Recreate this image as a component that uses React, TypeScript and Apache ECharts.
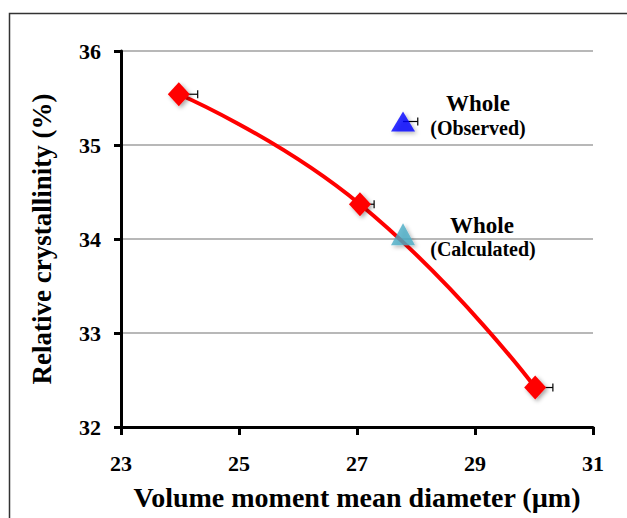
import React, { useEffect, useRef } from "react";
import * as echarts from "echarts";

const fitX = [23.98, 27.05, 30.02];
const fitY = [35.54, 34.37, 32.42];
const fitErr = [0.32, 0.24, 0.3];
const observed = [27.78, 35.25];
const observedErr = 0.25;
const calculated = [27.78, 34.05];
const xTicks = [23, 25, 27, 29, 31];
const yTicks = [32, 33, 34, 35, 36];

const FONT = "'Liberation Serif', 'Times New Roman', serif";

export default function App() {
  const ref = useRef<HTMLDivElement>(null);
  useEffect(() => {
    const chart = echarts.init(ref.current!, null, { renderer: "svg" });
    const errData = [
      ...fitX.map((x, i) => [x, fitY[i], fitErr[i]]),
      [observed[0], observed[1], observedErr],
    ];
    const xMin = xTicks[0];
    const xMax = xTicks[xTicks.length - 1];
    const yMin = yTicks[0];
    const yMax = yTicks[yTicks.length - 1];
    const txt = (x: number, y: number, text: string, size: number) => ({
      type: "text",
      x,
      y,
      z: 10,
      style: { text, fontFamily: FONT, fontWeight: "bold", fontSize: size, fill: "#000", align: "center", verticalAlign: "middle" },
    });
    chart.setOption({
      animation: false,
      backgroundColor: "#fff",
      grid: { left: 121, right: 34, top: 51, bottom: 91, outerBoundsMode: "none", containLabel: false },
      xAxis: {
        type: "value",
        min: xMin,
        max: xMax,
        interval: 2,
        z: 5,
        axisLine: { show: true, onZero: false, lineStyle: { color: "#000", width: 3 } },
        axisTick: { show: true, length: 8, lineStyle: { color: "#000", width: 3 } },
        axisLabel: { color: "#000", fontFamily: FONT, fontWeight: "bold", fontSize: 22, margin: 25 },
        splitLine: { show: false },
        name: "Volume moment mean diameter (µm)",
        nameLocation: "middle",
        nameGap: 56,
        nameTextStyle: { color: "#000", fontFamily: FONT, fontWeight: "bold", fontSize: 28 },
      },
      yAxis: {
        type: "value",
        min: yMin,
        max: yMax,
        interval: 1,
        z: 1,
        axisLine: { show: true, onZero: false, lineStyle: { color: "#000", width: 3 } },
        axisTick: { show: true, length: 7, lineStyle: { color: "#000", width: 3 } },
        axisLabel: { color: "#000", fontFamily: FONT, fontWeight: "bold", fontSize: 22, margin: 20 },
        splitLine: { show: true, lineStyle: { color: "#a0a0a0", width: 1.5 } },
        name: "Relative crystallinity (%)",
        nameLocation: "middle",
        nameGap: 66,
        nameTextStyle: { color: "#000", fontFamily: FONT, fontWeight: "bold", fontSize: 27 },
      },
      graphic: [
        {
          type: "polyline",
          silent: true,
          shape: { points: [[9.5, 518], [9.5, 13.5], [627, 13.5]] },
          style: { stroke: "#333", lineWidth: 1.5, fill: null },
        },
        txt(478, 103, "Whole", 23),
        txt(478, 128, "(Observed)", 20),
        txt(482, 225, "Whole", 23),
        txt(483, 249, "(Calculated)", 20),
      ],
      series: [
        {
          type: "custom",
          z: 1,
          data: errData,
          renderItem: (params: any, api: any) => {
            const p0 = api.coord([api.value(0), api.value(1)]);
            const p1 = api.coord([api.value(0) + api.value(2), api.value(1)]);
            return {
              type: "group",
              children: [
                { type: "line", shape: { x1: p0[0], y1: p0[1], x2: p1[0], y2: p1[1] }, style: { stroke: "#000", lineWidth: 1.2 } },
                { type: "line", shape: { x1: p1[0], y1: p1[1] - 4, x2: p1[0], y2: p1[1] + 4 }, style: { stroke: "#000", lineWidth: 1.2 } },
              ],
            };
          },
        },
        {
          type: "line",
          z: 2,
          data: fitX.map((x, i) => [x, fitY[i]]),
          smooth: 0.5,
          lineStyle: { color: "#ff0000", width: 4 },
          symbol: "diamond",
          symbolSize: [22, 24],
          itemStyle: { color: "#ff0000", shadowBlur: 4, shadowColor: "rgba(0,0,0,0.35)", shadowOffsetX: 2, shadowOffsetY: 2 },
        },
        {
          type: "scatter",
          z: 3,
          data: [observed],
          symbol: "triangle",
          symbolSize: [24, 20],
          itemStyle: { color: "#0000ff", shadowBlur: 4, shadowColor: "rgba(0,0,0,0.35)", shadowOffsetX: 2, shadowOffsetY: 2 },
        },
        {
          type: "scatter",
          z: 3,
          data: [calculated],
          symbol: "triangle",
          symbolSize: [24, 22],
          itemStyle: { color: "#4bacc6", shadowBlur: 4, shadowColor: "rgba(0,0,0,0.35)", shadowOffsetX: 2, shadowOffsetY: 2 },
        },
      ],
    });
    return () => chart.dispose();
  }, []);
  return (
    <div
      ref={ref}
      style={{ position: "fixed", left: 0, top: 0, width: 627, height: 518 }}
    />
  );
}
